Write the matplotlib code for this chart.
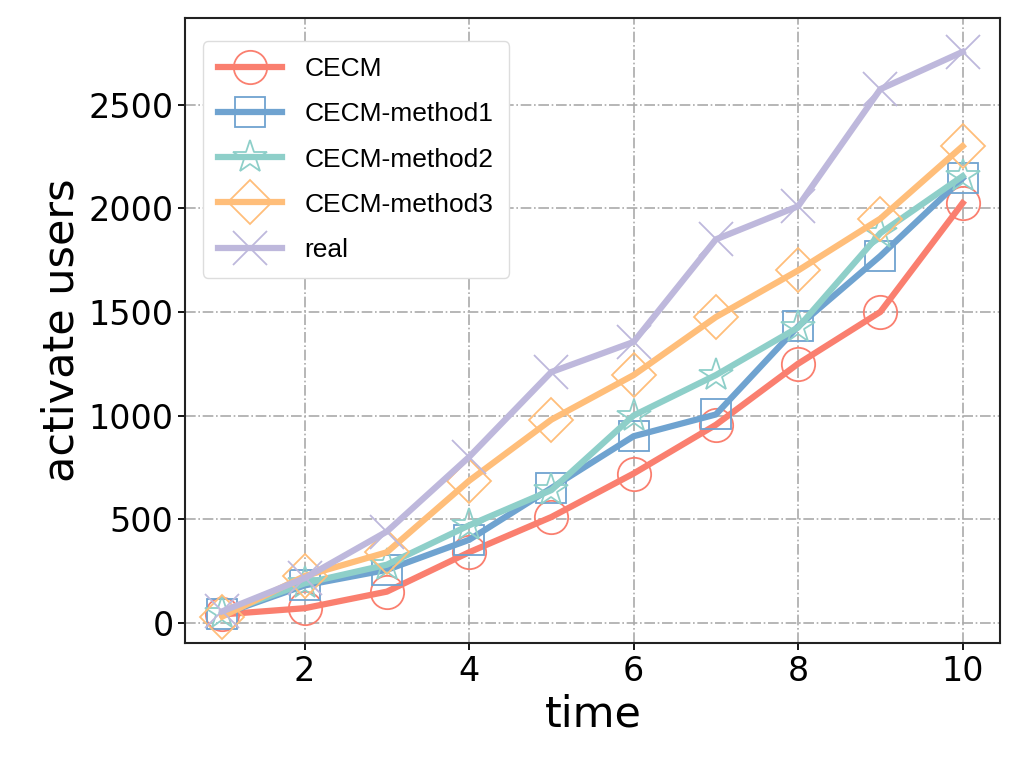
import matplotlib
matplotlib.use("Agg")
import matplotlib.pyplot as plt

time = [1, 2, 3, 4, 5, 6, 7, 8, 9, 10]
cecm = [40, 70, 150, 340, 510, 720, 955, 1250, 1500, 2025]
method1 = [40, 180, 255, 400, 650, 900, 1005, 1430, 1770, 2145]
method2 = [45, 190, 280, 470, 640, 1000, 1195, 1425, 1880, 2155]
method3 = [30, 225, 340, 685, 980, 1195, 1475, 1700, 1950, 2300]
real = [55, 215, 440, 800, 1210, 1355, 1850, 2010, 2575, 2755]

labels = ["CECM", "CECM-method1", "CECM-method2", "CECM-method3", "real"]
colors = ["#FA7F6F", "#6FA3D0", "#8ECFC9", "#FFBE7A", "#BEB8DC"]
markers = ["o", "s", "*", "D", "x"]
msizes = [24, 22, 25, 22, 24]

fig = plt.figure(figsize=(10.24, 7.68), dpi=100)
ax = fig.add_axes([0.181, 0.163, 0.796, 0.814])

series = [cecm, method1, method2, method3, real]
for s, lab, c, m, ms in zip(series, labels, colors, markers, msizes):
    ax.plot(time, s, color=c, lw=4.5, marker=m, markersize=ms,
            markerfacecolor="none", markeredgecolor=c, markeredgewidth=1.3,
            label=lab)

ax.set_xlim(0.55, 10.46)
ax.set_ylim(-97, 2920)
ax.set_xticks([2, 4, 6, 8, 10])
ax.set_yticks([0, 500, 1000, 1500, 2000, 2500])
ax.tick_params(labelsize=24, width=1.3, length=5)
ax.grid(True, linestyle="-.", color="#aaaaaa", lw=1.2)
ax.set_axisbelow(True)
for sp in ax.spines.values():
    sp.set_linewidth(1.5)
    sp.set_color("#222222")

ax.set_xlabel("time", fontsize=31)
ax.set_ylabel("activate users", fontsize=31)

leg = ax.legend(loc="upper left", prop={"family": "Liberation Sans", "size": 19},
                handlelength=2.4, labelspacing=0.8, borderpad=0.6,
                handletextpad=0.85, framealpha=1.0, edgecolor="#dddddd",
                bbox_to_anchor=(0.005, 0.983))

fig.savefig("out.png", dpi=100)
